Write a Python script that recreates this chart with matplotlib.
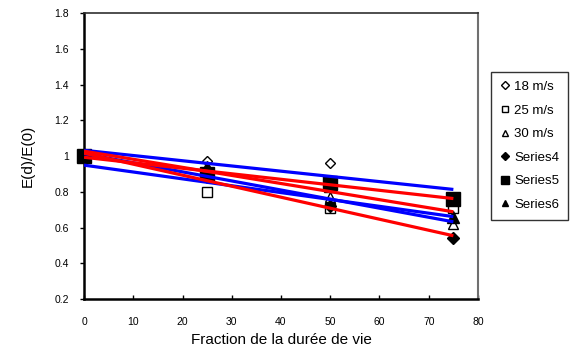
import numpy as np
import matplotlib
matplotlib.use("Agg")
import matplotlib.pyplot as plt
from matplotlib.lines import Line2D

plt.rcParams['font.family'] = ['Liberation Sans', 'DejaVu Sans']

# Fraction of service life (%) and normalised modulus E(d)/E(0)
life_fraction = [0, 25, 50, 75]
series_names = ["18 m/s", "25 m/s", "30 m/s", "Series4", "Series5", "Series6"]
ratio_18 = [1.00, 0.97, 0.96, 0.76]
ratio_25 = [1.00, 0.80, 0.71, 0.71]
ratio_30 = [1.00, 0.90, 0.77, 0.62]
ratio_s4 = [1.00, 0.88, 0.72, 0.54]
ratio_s5 = [1.00, 0.90, 0.85, 0.76]
ratio_s6 = [1.00, 0.94, 0.83, 0.66]

x_ticks = [0, 10, 20, 30, 40, 50, 60, 70, 80]
y_ticks = [0.2, 0.4, 0.6, 0.8, 1.0, 1.2, 1.4, 1.6, 1.8]
y_tick_labels = ["0.2", "0.4", "0.6", "0.8", "1", "1.2", "1.4", "1.6", "1.8"]

styles = [
    dict(marker="D", mfc="white", ms=5.5, lms=4.5, trend="#0000ff"),
    dict(marker="s", mfc="white", ms=6.5, lms=5.0, trend="#0000ff"),
    dict(marker="^", mfc="white", ms=7.0, lms=5.0, trend="#0000ff"),
    dict(marker="D", mfc="black", ms=6.5, lms=4.0, trend="#ff0000"),
    dict(marker="s", mfc="black", ms=9.5, lms=6.0, trend="#ff0000"),
    dict(marker="^", mfc="black", ms=8.0, lms=5.0, trend="#ff0000"),
]
series_values = [ratio_18, ratio_25, ratio_30, ratio_s4, ratio_s5, ratio_s6]

fig = plt.figure(figsize=(5.77, 3.56), dpi=100)
ax = fig.add_axes([0.1456, 0.160, 0.6828, 0.8035])

x = np.array(life_fraction, dtype=float)
handles = []
for name, vals, st in zip(series_names, series_values, styles):
    ax.plot(x, vals, linestyle="none", marker=st["marker"], markerfacecolor=st["mfc"],
            markeredgecolor="black", markersize=st["ms"], markeredgewidth=1.0,
            zorder=3, clip_on=False)
    handles.append(Line2D([], [], linestyle="none", marker=st["marker"],
                          markerfacecolor=st["mfc"], markeredgecolor="black",
                          markersize=st["lms"], markeredgewidth=1.0, label=name))

# Linear trend lines for each series
for vals, st in zip(series_values, styles):
    slope, intercept = np.polyfit(x, vals, 1)
    xx = np.array([x.min(), x.max()])
    ax.plot(xx, intercept + slope * xx, color=st["trend"], lw=2.3, zorder=4,
            solid_capstyle="butt")

ax.set_xlim(0, 80)
ax.set_ylim(0.2, 1.8)
ax.set_xticks(x_ticks)
ax.set_yticks(y_ticks)
ax.set_yticklabels(y_tick_labels)
ax.tick_params(axis="x", direction="in", length=3, width=1, pad=13, labelsize=7.5)
ax.tick_params(axis="y", direction="out", length=3, width=1, pad=8, labelsize=7.5)

for side in ("left", "bottom"):
    ax.spines[side].set_linewidth(1.8)
    ax.spines[side].set_color("black")
ax.spines["top"].set_linewidth(1.2)
ax.spines["top"].set_color("#303030")
ax.spines["right"].set_linewidth(1.5)
ax.spines["right"].set_color("#707070")

ax.set_xlabel("Fraction de la durée de vie", fontsize=11, labelpad=4)
ax.set_ylabel("E(d)/E(0)", fontsize=11, labelpad=14)

leg = fig.legend(handles=handles, loc="upper left", bbox_to_anchor=(0.851, 0.797),
                 frameon=True, fancybox=False, edgecolor="black", fontsize=9.5,
                 handlelength=0.8, handletextpad=0.3, labelspacing=0.86,
                 borderpad=0.65, borderaxespad=0.0)
leg.get_frame().set_linewidth(1.0)

fig.savefig("out.png", dpi=100)
